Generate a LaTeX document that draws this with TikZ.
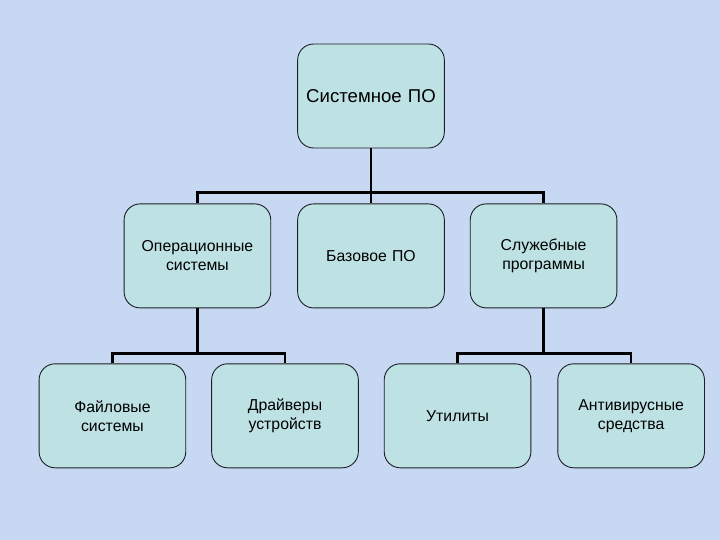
\documentclass[tikz,border=0pt]{standalone}
\usepackage{fontspec}
\setmainfont{Liberation Sans}
\usetikzlibrary{positioning}

\definecolor{bgblue}{RGB}{198,216,242}
\definecolor{boxfill}{RGB}{190,226,228}
\definecolor{boxline}{RGB}{30,30,40}

\begin{document}
\begin{tikzpicture}[node distance=55pt,
    block/.style={rectangle, draw=boxline, line width=0.9pt, fill=boxfill, minimum width=146pt, minimum height=104pt,
        text width=140pt, align=center, rounded corners=16pt, font=\fontsize{15.8}{19}\selectfont},
    topblock/.style={block, font=\fontsize{18.6}{22}\selectfont},
    line/.style={draw, black, line width=2.3pt}
]
    % Background
    \fill[bgblue] (0,0) rectangle (720pt,-540pt);
    \useasboundingbox (0,0) rectangle (720pt,-540pt);

    % Root
    \node [topblock] (sys) at (371pt,-96pt) {Системное ПО};

    % Second level
    \node [block, below=of sys] (base) {Базовое ПО};
    \node [block, left=26pt of base] (os) {Операционные\\системы};
    \node [block, right=25pt of base] (serv) {Служебные\\программы};

    % Third level
    \node [block, below=of os, xshift=-85pt] (fs) {Файловые\\системы};
    \node [block, right=25pt of fs] (drv) {Драйверы\\устройств};
    \node [block, below=of serv, xshift=-86pt] (util) {Утилиты};
    \node [block, right=26pt of util] (av) {Антивирусные\\средства};

    % Connections
    \path [line] (sys.south) -- ++(0,-44pt) -| (os.north);
    \path [line] (sys.south) -- ++(0,-44pt) -| (serv.north);
    \path [line] (sys) -- (base);
    \path [line] (os.south) -- ++(0,-45pt) -| (fs.north);
    \path [line] (os.south) -- ++(0,-45pt) -| (drv.north);
    \path [line] (serv.south) -- ++(0,-45pt) -| (util.north);
    \path [line] (serv.south) -- ++(0,-45pt) -| (av.north);
\end{tikzpicture}
\end{document}
